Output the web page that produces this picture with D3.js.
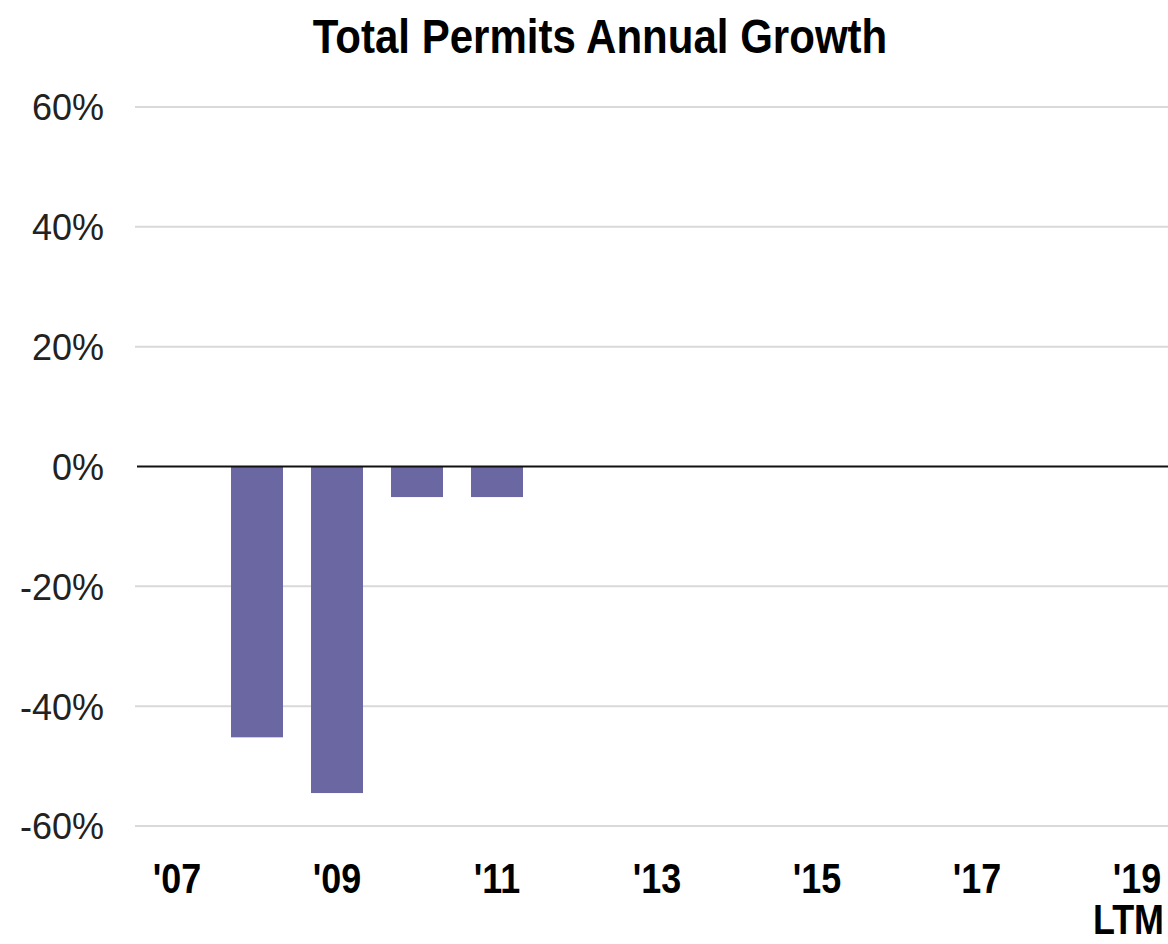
<!DOCTYPE html>
<html><head><meta charset="utf-8">
<script src="https://cdn.jsdelivr.net/npm/d3@7"></script>
<style>html,body{margin:0;padding:0;background:#fff;}</style>
</head><body>
<svg id="c" width="1168" height="944"></svg>
<script>
const title = "Total Permits Annual Growth";
const categories = ["'07","'08","'09","'10","'11","'12","'13","'14","'15","'16","'17","'18","'19"];
const tickLabelsX = ["'07","","'09","","'11","","'13","","'15","","'17","","'19\nLTM"];
const values = [null,-45.2,-54.5,-5.1,-5.1,null,null,null,null,null,null,null,null];
const yTicks = [-60,-40,-20,0,20,40,60];

const svg = d3.select("#c");
const bold = "'Liberation Sans',Arial,sans-serif";
const regular = "'Liberation Sans',Arial,sans-serif";

const x = d3.scaleBand().domain(categories).range([137,1177]).paddingInner(0.35).paddingOuter(0.175);
const y = d3.scaleLinear().domain([-60,60]).range([826,107]);

svg.append("g").attr("transform","translate(600,53) scale(0.876,1)")
  .append("text").attr("x",0).attr("y",0).attr("text-anchor","middle")
  .attr("font-family",bold).attr("font-weight","bold").attr("font-size",48).attr("fill","#000")
  .text(title);

// gridlines
svg.append("g").selectAll("line").data(yTicks.filter(d=>d!==0)).join("line")
  .attr("x1",135).attr("x2",1168).attr("y1",d=>y(d)).attr("y2",d=>y(d))
  .attr("stroke","#d9d9d9").attr("stroke-width",2);

// y axis labels
const yAxis = d3.axisLeft(y).tickValues(yTicks).tickFormat(d=>d+"%").tickSize(0).tickPadding(0);
const gy = svg.append("g").attr("transform","translate(104,0)").call(yAxis);
gy.select(".domain").remove();
gy.selectAll("text").attr("font-family",regular).attr("font-size",36).attr("fill","#222").attr("dy","0.36em");

// bars
svg.append("g").selectAll("rect").data(values.map((v,i)=>({c:categories[i],v})).filter(d=>d.v!==null)).join("rect")
  .attr("x",d=>x(d.c)).attr("width",x.bandwidth())
  .attr("y",d=>y(Math.max(0,d.v))).attr("height",d=>Math.abs(y(d.v)-y(0)))
  .attr("fill","#6a67a3");

// zero line
svg.append("line").attr("x1",137).attr("x2",1168).attr("y1",y(0)).attr("y2",y(0))
  .attr("stroke","#111").attr("stroke-width",2);

// x labels
const xAxis = d3.axisBottom(x).tickFormat((d,i)=>tickLabelsX[i]).tickSize(0);
const gx = svg.append("g").attr("transform","translate(0,862)").call(xAxis);
gx.select(".domain").remove();
gx.selectAll("text").each(function(d,i){
  const t = d3.select(this); const lines = tickLabelsX[i].split("\n");
  t.text(null).attr("y",0).attr("dy",null).attr("transform","scale(0.855,1)")
   .attr("font-family",bold).attr("font-weight","bold").attr("font-size",42).attr("fill","#000");
  lines.forEach((l,j)=>t.append("tspan").attr("x",j>0?-10:0).attr("y",31+j*41).text(l));
});
</script>
</body></html>
